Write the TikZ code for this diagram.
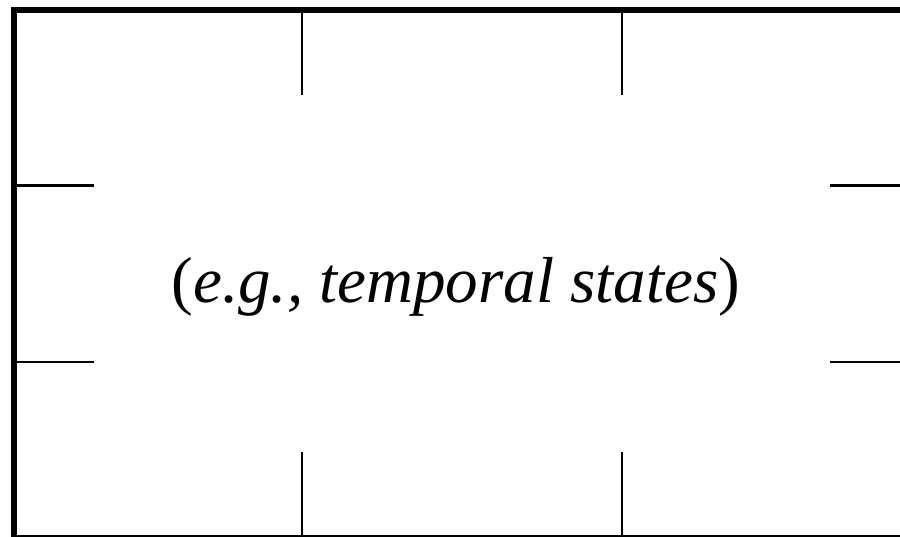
\documentclass[tikz,border=0pt]{standalone}
\usepackage{fontspec}
\setmainfont{Liberation Serif}
\begin{document}
\begin{tikzpicture}[x=1pt,y=-1pt,
  frame/.style={line width=6pt},
  tick/.style={line width=2.5pt},
  label/.style={font=\fontsize{65}{78}\selectfont, inner sep=0pt}]
\useasboundingbox (0,0) rectangle (900,537);
\draw[frame] (14,10) -- (908,10);
\draw[frame] (14,7) -- (14,540);
\draw[frame] (11,537.7) -- (908,537.7);
% top ticks
\coordinate (t1a) at (302,10); \coordinate (t1b) at (302,95.5);
\coordinate (t2a) at (622,10); \coordinate (t2b) at (622,95.5);
\draw[tick] (t1a) -- (t1b);
\draw[tick] (t2a) -- (t2b);
% bottom ticks
\coordinate (b1a) at (302,452); \coordinate (b1b) at (302,536);
\coordinate (b2a) at (622,452); \coordinate (b2b) at (622,536);
\draw[tick] (b1a) -- (b1b);
\draw[tick] (b2a) -- (b2b);
% left ticks
\coordinate (l1a) at (14,185.7); \coordinate (l1b) at (94,185.7);
\coordinate (l2a) at (14,362); \coordinate (l2b) at (94,362);
\draw[tick] (l1a) -- (l1b);
\draw[tick] (l2a) -- (l2b);
% right ticks
\coordinate (r1a) at (830,185.7); \coordinate (r1b) at (902,185.7);
\coordinate (r2a) at (830,362); \coordinate (r2b) at (902,362);
\draw[tick] (r1a) -- (r1b);
\draw[tick] (r2a) -- (r2b);
\node[label, anchor=base] (txt) at (456,303) {(\textit{e.g., temporal states})};
\end{tikzpicture}
\end{document}
